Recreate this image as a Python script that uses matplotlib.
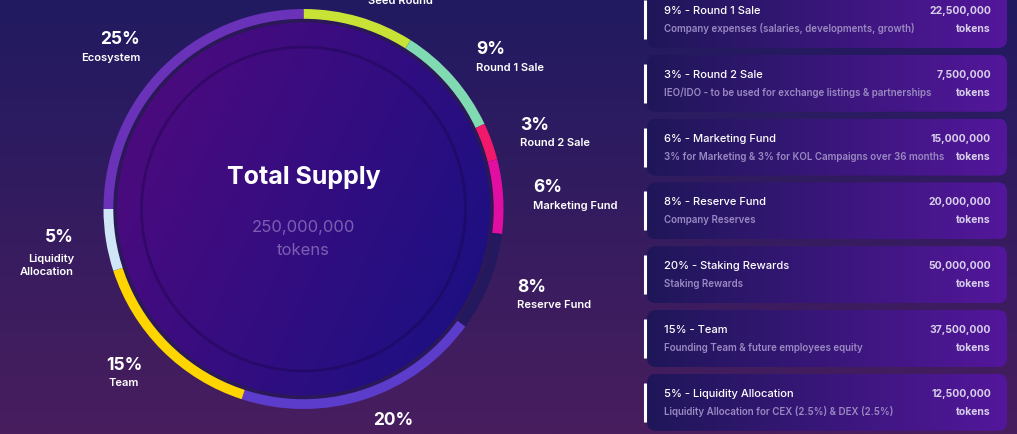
import numpy as np
import matplotlib.pyplot as plt
from matplotlib.colors import to_rgb
from matplotlib.patches import Circle, FancyBboxPatch

plt.rcParams['font.family'] = ['Inter', 'DejaVu Sans']

# token allocation, clockwise from 12 o'clock
alloc_names = ['Seed Round', 'Round 1 Sale', 'Round 2 Sale', 'Marketing Fund', 'Reserve Fund',
               'Staking Rewards', 'Team', 'Liquidity\nAllocation', 'Ecosystem']
alloc_pct = [9, 9, 3, 6, 8, 20, 15, 5, 25]
ring_colors = ['#c8e236', '#80dab2', '#f2186c', '#e20ea2', '#24195e',
               '#5b3ccb', '#ffd500', '#d0e6f7', '#6a31b9']

total_supply = '250,000,000'

card_titles = ['9% - Round 1 Sale', '3% - Round 2 Sale', '6% - Marketing Fund', '8% - Reserve Fund',
               '20% - Staking Rewards', '15% - Team', '5% - Liquidity Allocation']
card_desc = ['Company expenses (salaries, developments, growth)',
             'IEO/IDO - to be used for exchange listings & partnerships',
             '3% for Marketing & 3% for KOL Campaigns over 36 months',
             'Company Reserves',
             'Staking Rewards',
             'Founding Team & future employees equity',
             'Liquidity Allocation for CEX (2.5%) & DEX (2.5%)']
card_tokens = ['22,500,000', '7,500,000', '15,000,000', '20,000,000',
               '50,000,000', '37,500,000', '12,500,000']

# label placement around the ring (pixels, y from top)
label_x = [400, 476, 520, 533, 517, 393, 124, 74, 140]
label_y_pct = [-17, 50, 125, 188, 288, 421, 366, 238, 40]
label_y_name = [1, 68, 143, 206, 305, 439, 383, 265.5, 58]
label_ha = ['center', 'left', 'left', 'left', 'left', 'center', 'center', 'right', 'right']

W, H = 1017, 435
cx, cy, R = 303.5, 210, 200


def gradient(c0, c1, t):
    c0, c1 = np.array(to_rgb(c0)), np.array(to_rgb(c1))
    t = np.clip(t, 0, 1)[..., None]
    return c0 * (1 - t) + c1 * t


fig = plt.figure(figsize=(W / 100, H / 100), dpi=100)
ax = fig.add_axes([0, 0, 1, 1])

# background, dark navy at top to purple at bottom
ty = np.linspace(0, 1, 200)[:, None] * np.ones((1, 2))
ax.imshow(gradient('#211a61', '#481e5e', ty), extent=(0, W, H, 0), aspect='auto', zorder=0)

# ring (y axis is inverted later, so start at -90 and go counterclockwise = clockwise on screen)
ax.pie(alloc_pct, colors=ring_colors, radius=R, center=(cx, cy), startangle=-90,
       counterclock=True, wedgeprops=dict(width=11, linewidth=0))

# inner disc
ax.add_patch(Circle((cx, cy), 189.5, color='#2a1858', zorder=2))
disc = Circle((cx, cy), 186.5, facecolor='none', edgecolor='none', zorder=3)
ax.add_patch(disc)
gx, gy = np.meshgrid(np.linspace(0, 1, 200), np.linspace(0, 1, 200))
img = ax.imshow(gradient('#520a7e', '#1c1082', gx * 0.75 + gy * 0.35),
                extent=(cx - 187, cx + 187, cy + 187, cy - 187), aspect='auto', zorder=3)
img.set_clip_path(disc)
ax.add_patch(Circle((cx, cy), 162, facecolor='none', edgecolor=(0.08, 0.02, 0.25, 0.35), lw=2, zorder=4))

ax.text(cx, 178, 'Total Supply', ha='center', va='center', color='white', fontsize=18,
        fontweight='bold', zorder=5)
ax.text(cx, 228, total_supply, ha='center', va='center', color='#7b5fb2', fontsize=12, zorder=5)
ax.text(cx, 251, 'tokens', ha='center', va='center', color='#7b5fb2', fontsize=12, zorder=5)

# labels around the ring
for name, pct, x, yp, yn, ha in zip(alloc_names, alloc_pct, label_x, label_y_pct, label_y_name, label_ha):
    ax.text(x, yp, f'{pct}%', ha=ha, va='center', color='white', fontsize=12.5, fontweight='bold')
    ax.text(x, yn, name, ha=ha, va='center', color='white', fontsize=8, fontweight='semibold',
            linespacing=1.3)

# allocation cards
for i in range(len(card_titles)):
    top = -8 + i * 63.8
    box = FancyBboxPatch((647, top), 360, 57, boxstyle='round,pad=0,rounding_size=9',
                         facecolor='none', edgecolor='none', zorder=2)
    ax.add_patch(box)
    gi = ax.imshow(gradient('#1f1759', '#53169b', np.linspace(0, 1, 200)[None, :] * np.ones((2, 1))),
                   extent=(647, 1007, top + 57, top), aspect='auto', zorder=2)
    gi.set_clip_path(box)
    ax.vlines(645, top + 9, top + 48, color='white', lw=2.2, zorder=3)
    ax.text(664, top + 19, card_titles[i], ha='left', va='center', color='white', fontsize=8,
            fontweight='medium', zorder=4)
    ax.text(664, top + 37, card_desc[i], ha='left', va='center', color='#9a89c2', fontsize=7,
            fontweight='semibold', zorder=4)
    ax.text(991, top + 19, card_tokens[i], ha='right', va='center', color='#d8d0ea', fontsize=7.5,
            fontweight='bold', zorder=4)
    ax.text(991, top + 37, 'tokens', ha='right', va='center', color='#d8d0ea', fontsize=7.5,
            fontweight='bold', zorder=4)

ax.set_xlim(0, W)
ax.set_ylim(H, 0)
ax.set_aspect('auto')
ax.axis('off')

fig.savefig('out.png', dpi=100)
plt.close(fig)
